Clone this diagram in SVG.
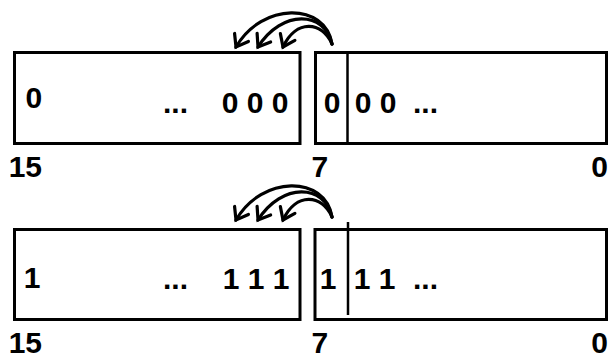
<svg xmlns="http://www.w3.org/2000/svg" width="608" height="354" viewBox="0 0 608 354">
<style>
.box{fill:#fff;stroke:#000;stroke-width:3}
.div{stroke:#000;stroke-width:2.5}
.t{font-family:"Liberation Sans",Arial,sans-serif;font-weight:bold;font-size:30px;fill:#000}
.arc{fill:none;stroke:#000;stroke-width:3.2;stroke-linecap:round;marker-end:url(#chev)}
</style>
<defs>
<marker id="chev" markerUnits="userSpaceOnUse" markerWidth="30" markerHeight="30" refX="0" refY="0" viewBox="-15 -15 30 30" orient="auto" overflow="visible">
<path d="M-11,-8 L0,0 L-11,8" fill="none" stroke="#000" stroke-width="3.2" stroke-linecap="round" stroke-linejoin="miter"/>
</marker>
</defs>
<g id="top-register">
<g id="top-high-byte">
<rect class="box" x="14.5" y="52.5" width="285.5" height="91"/>
<text class="t" x="25.4" y="108">0</text>
<text class="t" x="163" y="113">...</text>
<text class="t" x="221.7" y="113.3">0 0 0</text>
</g>
<g id="top-low-byte">
<rect class="box" x="315.5" y="52.5" width="291" height="91"/>
<line class="div" x1="347.5" y1="52" x2="347.5" y2="144"/>
<text class="t" x="323.7" y="113.3">0</text>
<text class="t" x="354.7" y="113.3">0 0</text>
<text class="t" x="413" y="113">...</text>
</g>
<g id="top-labels">
<text class="t" x="8.7" y="176.7">15</text>
<text class="t" x="311.5" y="177">7</text>
<text class="t" x="608" y="177" text-anchor="end">0</text>
</g>
</g>
<g id="bottom-register">
<g id="bottom-high-byte">
<rect class="box" x="14.5" y="229.5" width="285.5" height="90"/>
<text class="t" x="23.7" y="287.5">1</text>
<text class="t" x="163" y="288.5">...</text>
<text class="t" x="222.7" y="288.5">1 1 1</text>
</g>
<g id="bottom-low-byte">
<rect class="box" x="315" y="229.5" width="291.5" height="90"/>
<line class="div" x1="348" y1="222" x2="348" y2="315"/>
<text class="t" x="319.7" y="288.5">1</text>
<text class="t" x="353.7" y="288.5">1 1</text>
<text class="t" x="413" y="288.5">...</text>
</g>
<g id="bottom-labels">
<text class="t" x="8.7" y="352.5">15</text>
<text class="t" x="311.5" y="352.5">7</text>
<text class="t" x="608" y="352.5" text-anchor="end">0</text>
</g>
</g>
<g id="connectors">
<path class="arc" d="M332,44 C325,2 262,2 236,47"/>
<path class="arc" d="M332,44 C325,11 282,9 258,47"/>
<path class="arc" d="M332,44 C322,21 296,19 283,47"/>
<path class="arc" d="M332,217 C325,175 262,175 236,220"/>
<path class="arc" d="M332,217 C325,184 282,182 258,220"/>
<path class="arc" d="M332,217 C322,194 296,192 283,220"/>
</g>
</svg>
